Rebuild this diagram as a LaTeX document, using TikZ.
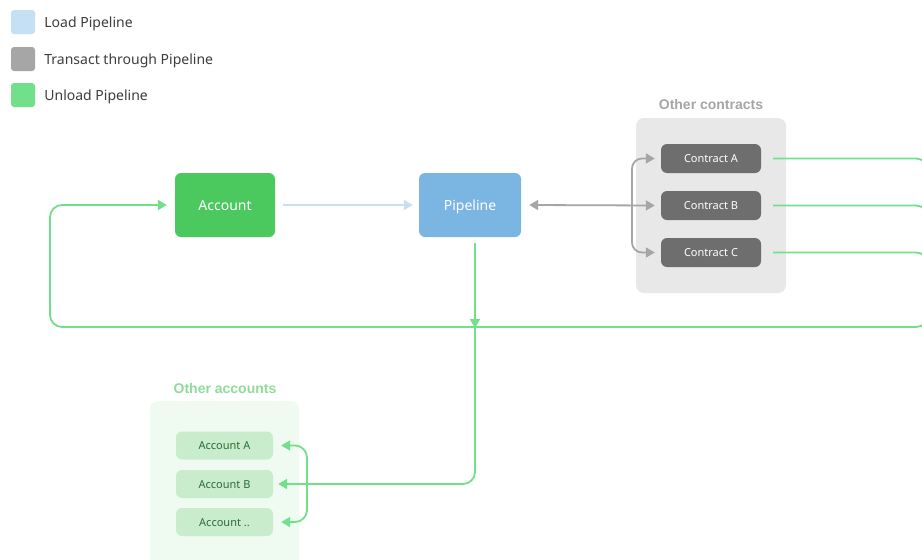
\documentclass[tikz,border=0pt]{standalone}
\usepackage{fontspec}
\setmainfont{Noto Sans}
\newfontfamily\titlefont{Liberation Sans}
\usepackage{xcolor}
\usetikzlibrary{arrows.meta,positioning}
\definecolor{load-blue}{HTML}{C5E0F5}
\definecolor{pipe-blue}{HTML}{7BB5E2}
\definecolor{transact-gray}{HTML}{A6A6A6}
\definecolor{contract-gray}{HTML}{6E6E6E}
\definecolor{group-gray}{HTML}{E8E8E8}
\definecolor{unload-green}{HTML}{72E08A}
\definecolor{account-green}{HTML}{4CC95E}
\definecolor{group-green}{HTML}{EFFAF0}
\definecolor{item-green}{HTML}{C8ECCC}
\definecolor{item-text}{HTML}{2E6B3A}
\definecolor{label-green}{HTML}{8FDC9A}
\definecolor{legend-text}{HTML}{3D3D3D}
\tikzset{
    legend-key/.style = {rectangle, rounded corners=3pt, minimum size=24pt, inner sep=0pt},
    legend-label/.style = {anchor=west, inner sep=0pt, text height=10pt, text depth=0pt, text=legend-text, font=\fontsize{14}{16}\selectfont},
    flow-box/.style = {rectangle, rounded corners=6pt, minimum width=100pt, minimum height=64pt, inner sep=0pt, text height=10pt, text depth=0pt, text=white, font=\fontsize{14}{16}\selectfont},
    item-box/.style = {rectangle, rounded corners=6pt, minimum width=100pt, minimum height=29pt, inner sep=0pt, text height=8pt, text depth=0pt, font=\fontsize{11}{13}\selectfont},
    group-box/.style = {rectangle, rounded corners=8pt, inner sep=0pt},
    group-title/.style = {font=\titlefont\bfseries\fontsize{14}{16}\selectfont, text height=10pt, text depth=0pt, inner sep=0pt},
    load-line/.style = {draw=load-blue, line width=1.8pt, -{Triangle[length=9pt,width=10pt]}},
    transact-line/.style = {draw=transact-gray, line width=1.8pt, rounded corners=10pt},
    unload-line/.style = {draw=unload-green, line width=1.8pt, rounded corners=12pt},
}

\begin{document}
\begin{tikzpicture}[x=1pt, y=-1pt, >={Triangle[length=9pt,width=10pt]}]
\clip (0,0) rectangle (922,560);
\fill[white] (0,0) rectangle (922,560);

% legend
\node[legend-key, fill=load-blue] (key-load) at (23,22) {};
\node[legend-label, right=9pt of key-load] {Load Pipeline};
\node[legend-key, fill=transact-gray] (key-transact) at (23,59) {};
\node[legend-label, right=9pt of key-transact] {Transact through Pipeline};
\node[legend-key, fill=unload-green] (key-unload) at (23,95) {};
\node[legend-label, right=9pt of key-unload] {Unload Pipeline};

% groups
\node[group-box, fill=group-gray, minimum width=150pt, minimum height=175pt] (contracts) at (711,205.5) {};
\node[group-title, text=transact-gray] at (711,104) {Other contracts};
\node[group-box, fill=group-green, minimum width=149pt, minimum height=180pt] (accounts) at (224.5,491) {};
\node[group-title, text=label-green] at (225,388) {Other accounts};

% main boxes
\node[flow-box, fill=account-green] (account) at (225,205) {Account};
\node[flow-box, fill=pipe-blue, minimum width=102pt] (pipeline) at (470,205) {Pipeline};

\node[item-box, fill=contract-gray, text=white] (contract-a) at (711,158.5) {Contract A};
\node[item-box, fill=contract-gray, text=white] (contract-b) at (711,205.5) {Contract B};
\node[item-box, fill=contract-gray, text=white] (contract-c) at (711,252.5) {Contract C};

\node[item-box, fill=item-green, text=item-text, minimum width=97pt, minimum height=28pt] (account-a) at (224.5,445.5) {Account A};
\node[item-box, fill=item-green, text=item-text, minimum width=97pt, minimum height=28pt] (account-b) at (224.5,484) {Account B};
\node[item-box, fill=item-green, text=item-text, minimum width=97pt, minimum height=28pt] (account-n) at (224.5,522) {Account ..};

% load
\draw[load-line] ([xshift=8pt]account.east) -- ([xshift=-6pt]pipeline.west);

% transact
\draw[transact-line, <->] ([xshift=8pt]pipeline.east) -- ([xshift=-6pt]contract-b.west);
\draw[transact-line, <->] ([xshift=-6pt]contract-a.west) -| (632,205) |- ([xshift=-6pt]contract-c.west);

% unload
\draw[unload-line] ([xshift=12pt]contract-a.east) -| (928,240);
\draw[unload-line] ([xshift=12pt]contract-b.east) -| (928,260);
\draw[unload-line] ([xshift=12pt]contract-c.east) -| (928,290);
\draw[unload-line, ->] (928,280) |- (50,327) |- ([xshift=-8pt]account.west);
\coordinate (join) at (475,327);
\draw[unload-line, ->] (475,243) -- ([yshift=-1pt]join);
\draw[unload-line, ->] (join) |- ([xshift=5pt]account-b.east);
\draw[unload-line, <->] ([xshift=8pt]account-a.east) -| (307,484) |- ([xshift=8pt]account-n.east);
\end{tikzpicture}
\end{document}
